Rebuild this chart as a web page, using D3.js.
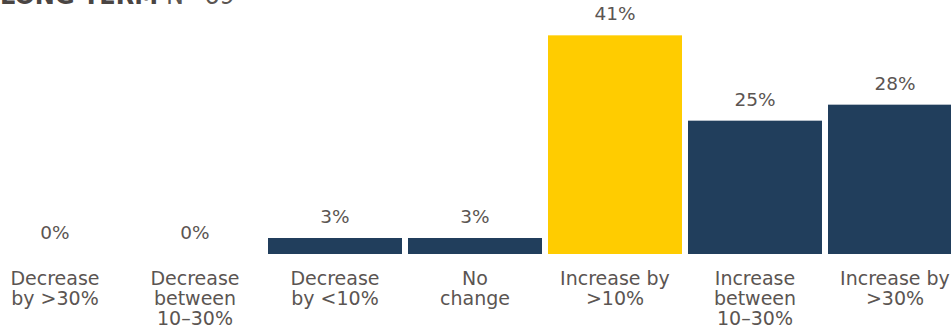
<!DOCTYPE html>
<html>
<head>
<meta charset="utf-8">
<script src="https://cdn.jsdelivr.net/npm/d3@7"></script>
<style>
  html, body { margin: 0; padding: 0; background: #fff; }
  svg { display: block; }
  text { font-family: "DejaVu Sans", Verdana, sans-serif; fill: #5b5552; }
</style>
</head>
<body>
<div id="chart"></div>
<script>
// Expected change in spend, long term (N=69)
const categories = [
  ["Decrease", "by >30%"],
  ["Decrease", "between", "10\u201330%"],
  ["Decrease", "by <10%"],
  ["No", "change"],
  ["Increase by", ">10%"],
  ["Increase", "between", "10\u201330%"],
  ["Increase by", ">30%"]
];
const values = [0, 0, 3, 3, 41, 25, 28];
const highlight = [false, false, false, false, true, false, false];
const titleBold = "LONG TERM";
const titleNote = "N=69";

const W = 951, H = 330;
const baseY = 254;

const svg = d3.select("#chart").append("svg")
  .attr("width", W).attr("height", H);

const x = d3.scaleBand()
  .domain(d3.range(values.length))
  .range([-15, 965])
  .paddingInner(6 / 140)
  .paddingOuter(3 / 140);

const y = d3.scaleLinear()
  .domain([0, 42])
  .range([baseY, baseY - 224]);

// Section title, running off the top edge
const title = svg.append("text")
  .attr("x", 0).attr("y", 4)
  .style("font-size", "24px");
title.append("tspan").text(titleBold).style("font-weight", "700").style("fill", "#4a4543");
title.append("tspan").attr("dx", 8).text(titleNote).style("fill", "#5b5552");

// Bars
svg.selectAll("rect.bar")
  .data(values)
  .join("rect")
  .attr("class", "bar")
  .attr("x", (d, i) => x(i))
  .attr("width", x.bandwidth())
  .attr("y", d => y(d))
  .attr("height", d => y(0) - y(d))
  .attr("fill", (d, i) => highlight[i] ? "#ffcc00" : "#213e5c");

// Value labels
svg.selectAll("text.val")
  .data(values)
  .join("text")
  .attr("class", "val")
  .attr("x", (d, i) => x(i) + x.bandwidth() / 2)
  .attr("y", d => y(d) - 15)
  .attr("text-anchor", "middle")
  .style("font-size", "18.5px")
  .text(d => d + "%");

// Category labels
const cat = svg.selectAll("text.cat")
  .data(categories)
  .join("text")
  .attr("class", "cat")
  .attr("text-anchor", "middle")
  .attr("x", (d, i) => x(i) + x.bandwidth() / 2)
  .attr("y", 285)
  .style("font-size", "19px");
cat.selectAll("tspan")
  .data((d, i) => d.map(t => ({ t, cx: x(i) + x.bandwidth() / 2 })))
  .join("tspan")
  .attr("x", d => d.cx)
  .attr("dy", (d, j) => j === 0 ? 0 : 20)
  .text(d => d.t);
</script>
</body>
</html>
